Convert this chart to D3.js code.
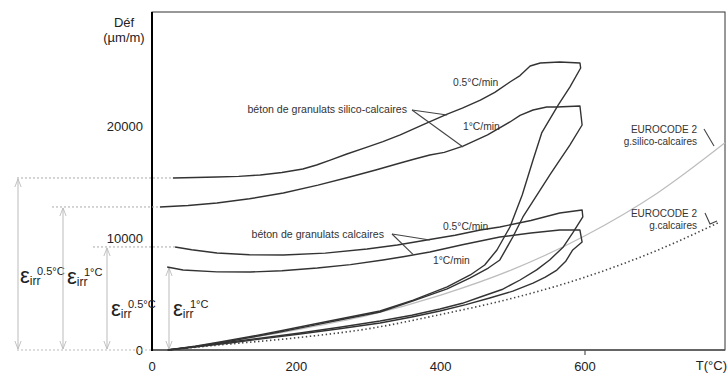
<!DOCTYPE html>
<html>
<head>
<meta charset="utf-8">
<style>
    body { margin: 0; background: #fff; }
    svg { display: block; font-family: 'Liberation Sans', Arial, sans-serif; }
</style>
</head>
<body>
<svg width="727" height="374"></svg>

<script src="https://d3js.org/d3.v7.min.js"></script>
<script>
//------------------------ DATA ------------------------//
// each point: [T (°C), déformation (µm/m)], heating then cooling
let silico05 = [[22,0],[60,330],[94,710],[135,1180],[177,1700],[220,2250],[260,2770],[316,3480],[362,4460],[409,5630],[441,6700],
    [461,7590],[478,8930],[496,10980],[513,13840],[528,16960],[540,19380],[563,21880],
    [579,23480],[594,25180],[593,25630],[565,25710],[538,25630],[524,25360],[510,24500],[496,23930],[475,23000],[455,22320],
    [430,21600],[409,21070],[375,20100],[344,19200],[320,18600],[295,18040],[270,17500],[247,16960],[228,16520],[209,16160],
    [180,15850],[150,15630],[120,15500],[90,15450],[60,15400],[29,15360]]

let silico1 = [[22,0],[60,300],[94,630],[135,1100],[177,1610],[220,2150],[260,2680],[316,3390],[362,4380],[409,5450],[441,6430],
    [466,7320],[482,8040],[500,10090],[514,11880],[538,14290],[552,15700],[565,16960],[579,18300],[596,20090],
    [593,21790],[561,21700],[547,21700],[528,21430],[510,20950],[496,20360],[465,19200],[431,18210],[405,17650],[385,17410],
    [364,17050],[344,16700],[310,16070],[274,15450],[230,14720],[182,14020],[135,13500],[90,13130],[50,12900],[11,12770]]

let calc05 = [[22,0],[65,340],[108,710],[155,1100],[205,1520],[260,2030],[316,2590],[360,3100],[399,3660],[430,4170],[455,4730],
    [485,5400],[510,6250],[533,7150],[551,8040],[570,9200],[583,10450],[597,11880],[596,12500],[565,12230],[525,11560],
    [482,10980],[455,10710],[420,10250],[389,9910],[340,9380],[298,9020],[240,8650],[182,8480],[135,8500],[90,8660],[55,8950],[32,9200]]

let calc1 = [[22,0],[65,300],[108,630],[155,1020],[205,1430],[260,1900],[316,2410],[360,2950],[399,3480],[435,4050],[468,4640],
    [500,5250],[528,5980],[545,6500],[561,7140],[573,7900],[583,8930],[596,9640],[593,10710],[565,10710],[525,10450],
    [482,10090],[430,9400],[385,8750],[350,8350],[320,8040],[275,7620],[229,7320],[180,7080],[136,6960],[90,6980],[43,7140],[21,7410]]

let ecSilico = [[20,0],[100,720],[200,1800],[300,3100],[400,4900],[500,7200],[600,10200],[700,14000],[794,18500]]
let ecCalc = [[20,0],[100,490],[200,1090],[300,1900],[400,3170],[500,4630],[600,6500],[700,8900],[786,11400]]

let xTicks = [0, 200, 400, 600]
let yTicks = [0, 10000, 20000]

//------------------------ SCALES ------------------------//
let svg = d3.select("svg")
let x = d3.scaleLinear().domain([0, 794]).range([152, 725])
let y = d3.scaleLinear().domain([0, 30180]).range([350, 12])

// loops keep their sharp corners
let line = d3.line()
    .x(d => x(d[0]))
    .y(d => y(d[1]))

let smooth = d3.line()
    .x(d => x(d[0]))
    .y(d => y(d[1]))
    .curve(d3.curveMonotoneX)

// arrow head
svg.append("defs").append("marker")
    .attr("id", "vhead")
    .attr("viewBox", "0 0 10 10")
    .attr("refX", 9).attr("refY", 5)
    .attr("markerWidth", 9).attr("markerHeight", 9)
    .attr("markerUnits", "userSpaceOnUse")
    .attr("orient", "auto-start-reverse")
    .append("path")
    .attr("d", "M0,1.5 L9,5 L0,8.5")
    .attr("fill", "none")
    .attr("stroke", "#bbb")
    .attr("stroke-width", 1)

//------------------------ FRAME & AXES ------------------------//
svg.append("rect")
    .attr("x", x(0)).attr("y", y(30180))
    .attr("width", x(794) - x(0)).attr("height", y(0) - y(30180))
    .attr("fill", "none").attr("stroke", "#333").attr("stroke-width", 1)

svg.append("line")
    .attr("x1", x(0)).attr("x2", x(794)).attr("y1", y(0)).attr("y2", y(0))
    .attr("stroke", "#555").attr("stroke-width", 1.6)
svg.append("line")
    .attr("x1", x(0)).attr("x2", x(0)).attr("y1", y(0) + 1).attr("y2", y(30180))
    .attr("stroke", "#000").attr("stroke-width", 2)

svg.append("line")
    .attr("x1", x(600)).attr("x2", x(600)).attr("y1", y(0)).attr("y2", y(0) + 5)
    .attr("stroke", "#555").attr("stroke-width", 1.2)

svg.append("g").selectAll("text")
    .data(xTicks)
    .join("text")
    .attr("x", d => x(d))
    .attr("y", 371)
    .attr("text-anchor", "middle")
    .attr("font-size", 13)
    .attr("fill", "#222")
    .text(d => d)

svg.append("g").selectAll("text")
    .data(yTicks)
    .join("text")
    .attr("x", 143)
    .attr("y", d => y(d) + 5)
    .attr("text-anchor", "end")
    .attr("font-size", 13)
    .attr("fill", "#222")
    .text(d => d)

svg.append("text").attr("x", 124).attr("y", 27).attr("text-anchor", "middle")
    .attr("font-size", 13).attr("fill", "#222").text("Déf")
svg.append("text").attr("x", 124).attr("y", 42).attr("text-anchor", "middle")
    .attr("font-size", 13).attr("fill", "#222").text("(µm/m)")
svg.append("text").attr("x", 727).attr("y", 370).attr("text-anchor", "end")
    .attr("font-size", 13).attr("fill", "#222").text("T(°C)")

//------------------------ RESIDUAL STRAIN GUIDES ------------------------//
let residuals = [
    {loop: silico05, dashFrom: 17, arrowX: 18, lx: 20, ly: 283, sup: "0.5°C"},
    {loop: silico1, dashFrom: 52, arrowX: 63, lx: 67, ly: 284, sup: "1°C"},
    {loop: calc05, dashFrom: 93, arrowX: 107, lx: 111, ly: 316, sup: "0.5°C"},
    {loop: calc1, dashFrom: null, arrowX: 169, lx: 173, ly: 316, sup: "1°C"}
]

// dotted base line under the labels
svg.append("line")
    .attr("x1", 17).attr("x2", x(0)).attr("y1", y(0)).attr("y2", y(0))
    .attr("stroke", "#bbb").attr("stroke-width", 1).attr("stroke-dasharray", "2,2")

residuals.forEach(function(r) {
    let last = r.loop[r.loop.length - 1]
    if (r.dashFrom !== null) {
        svg.append("line")
            .attr("x1", r.dashFrom).attr("x2", x(last[0]))
            .attr("y1", y(last[1])).attr("y2", y(last[1]))
            .attr("stroke", "#aaa").attr("stroke-width", 1).attr("stroke-dasharray", "2,2")
    }
    svg.append("line")
        .attr("x1", r.arrowX).attr("x2", r.arrowX)
        .attr("y1", y(last[1]) + 1).attr("y2", y(0) - 1)
        .attr("stroke", "#bbb").attr("stroke-width", 1)
        .attr("marker-start", "url(#vhead)")
        .attr("marker-end", "url(#vhead)")

    let t = svg.append("text").attr("x", r.lx).attr("y", r.ly).attr("fill", "#222")
    t.append("tspan").attr("font-size", 22).text("ε")
    t.append("tspan").attr("font-size", 12).attr("dy", 2).text("irr")
    svg.append("text").attr("x", r.lx + 17).attr("y", r.ly - 8)
        .attr("font-size", 11).attr("fill", "#222").text(r.sup)
})

//------------------------ CURVES ------------------------//
svg.append("path")
    .attr("d", smooth(ecSilico))
    .attr("fill", "none").attr("stroke", "#bdbdbd").attr("stroke-width", 1.2)

svg.append("path")
    .attr("d", smooth(ecCalc))
    .attr("fill", "none").attr("stroke", "#444").attr("stroke-width", 1.6)
    .attr("stroke-dasharray", "1.4,2.6")

svg.append("g").selectAll("path")
    .data([silico05, silico1, calc05, calc1])
    .join("path")
    .attr("d", d => line(d))
    .attr("fill", "none")
    .attr("stroke", "#333")
    .attr("stroke-width", 1.4)
    .attr("stroke-linejoin", "round")

//------------------------ ANNOTATIONS ------------------------//
function label(txt, tx, ty, anchor, size) {
    svg.append("text")
        .attr("x", tx).attr("y", ty)
        .attr("text-anchor", anchor || "start")
        .attr("font-size", size || 10).attr("fill", "#333")
        .text(txt)
}
function leader(points) {
    svg.append("path")
        .attr("d", d3.line()(points))
        .attr("fill", "none").attr("stroke", "#444").attr("stroke-width", 1.1)
}

label("béton de granulats silico-calcaires", 407, 113, "end", 10.6)
leader([[412, 110], [x(409), y(21070) + 1]])
leader([[412, 110], [x(431), y(18210) + 1]])
label("0.5°C/min", 453, 86, "start", 10.3)
label("1°C/min", 463, 130, "start", 10.3)

label("béton de granulats calcaires", 384, 238, "end", 10.6)
leader([[392, 234], [x(385), y(9910) + 1]])
leader([[392, 234], [x(362), y(8700) + 2]])
label("0.5°C/min", 443, 230, "start", 10.3)
label("1°C/min", 433, 264, "start", 10.3)

label("EUROCODE 2", 697, 133, "end")
label("g.silico-calcaires", 697, 145, "end")
leader([[704, 129], [714, 146]])
label("EUROCODE 2", 697, 217, "end")
label("g.calcaires", 697, 229, "end")
leader([[705, 213], [710, 224], [717, 221]])
</script>
</body>
</html>
